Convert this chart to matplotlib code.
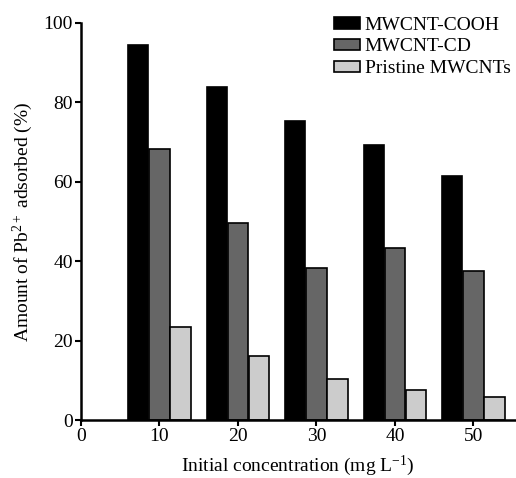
import matplotlib
matplotlib.use('Agg')
import matplotlib.pyplot as plt
import numpy as np

plt.rcParams['font.family'] = ['Liberation Serif', 'DejaVu Serif']
plt.rcParams['mathtext.fontset'] = 'custom'
plt.rcParams['mathtext.rm'] = 'Liberation Serif'
plt.rcParams['mathtext.it'] = 'Liberation Serif:italic'

concentrations = np.array([10, 20, 30, 40, 50])
cooh = [94.5, 83.9, 75.3, 69.3, 61.5]
cd = [68.3, 49.6, 38.3, 43.3, 37.5]
pristine = [23.4, 16.1, 10.3, 7.6, 5.8]
labels = ['MWCNT-COOH', 'MWCNT-CD', 'Pristine MWCNTs']
colors = ['#000000', '#666666', '#cccccc']

fig = plt.figure(figsize=(5.16, 4.78), dpi=100)
ax = fig.add_axes([0.157, 0.121, 0.841, 0.831])

width = 2.6
offsets = [-2.7, 0, 2.7]
for vals, off, c, lab in zip([cooh, cd, pristine], offsets, colors, labels):
    ax.bar(concentrations + off, vals, width, color=c, edgecolor='black',
           linewidth=1.2, label=lab)

ax.set_xlim(0, 55.3)
ax.set_ylim(0, 100)
ax.set_xticks([0, 10, 20, 30, 40, 50])
ax.set_yticks([0, 20, 40, 60, 80, 100])
ax.spines['top'].set_visible(False)
ax.spines['right'].set_visible(False)
ax.spines['left'].set_linewidth(1.8)
ax.spines['bottom'].set_linewidth(1.8)
ax.tick_params(direction='out', length=4, width=1.5, labelsize=14, pad=2)

ax.set_xlabel('Initial concentration (mg L$^{\\mathrm{-1}}$)', fontsize=14,
              labelpad=6)
ax.set_ylabel('Amount of Pb$^{2+}$ adsorbed (%)', fontsize=14, labelpad=6)

ax.legend(loc='upper right', frameon=False, fontsize=14, handlelength=1.3,
          handleheight=0.55, handletextpad=0.25, labelspacing=0.25,
          bbox_to_anchor=(1.03, 1.06))

fig.savefig('out.png', dpi=100)
